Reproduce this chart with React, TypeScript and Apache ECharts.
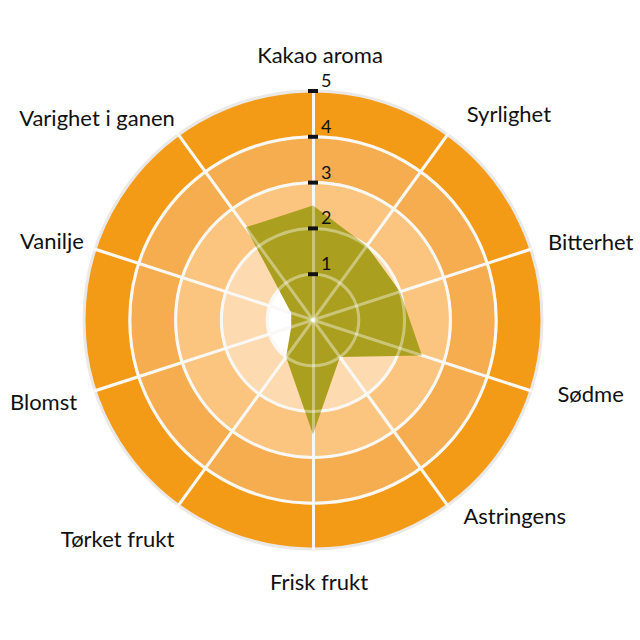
import { useEffect, useRef } from 'react';
import * as echarts from 'echarts';

// clockwise from the top
const attributes = [
  'Kakao aroma',
  'Syrlighet',
  'Bitterhet',
  'Sødme',
  'Astringens',
  'Frisk frukt',
  'Tørket frukt',
  'Blomst',
  'Vanilje',
  'Varighet i ganen',
];
const scores = [2.5, 2, 2, 2.5, 1, 2.5, 1, 0.5, 0.5, 2.5];
const maxScore = 5;

const ringColors = ['#ffffff', '#fddab0', '#fbc57f', '#f5ad4f', '#f39a17'];
const font = 'Lato';

// per-label nudges (same order as attributes):
// gap from the rim, side padding, and a vertical shift (+ down / - up)
const nameLayout: { gap: number; pad: number[]; shift: number }[] = [
  { gap: 26, pad: [0, 0, 0, 14], shift: 0 },
  { gap: 24, pad: [0, 0, 0, 5], shift: -2 },
  { gap: 18, pad: [0, 0, 0, 0], shift: -2 },
  { gap: 28, pad: [0, 0, 0, 0], shift: -6 },
  { gap: 15, pad: [0, 0, 0, 7], shift: -2 },
  { gap: 21, pad: [0, 0, 0, 12], shift: 0 },
  { gap: 7, pad: [0, 0, 0, 0], shift: 28 },
  { gap: 19, pad: [0, 0, 0, 0], shift: 5 },
  { gap: 12, pad: [0, 0, 0, 0], shift: -5 },
  { gap: 6, pad: [0, 0, 0, 0], shift: -12 },
];

// echarts lays radar axes out counter-clockwise, so flip everything after the first
const ccw = <T,>(arr: T[]) => [arr[0], ...arr.slice(1).reverse()];

const shiftStyle = (shift: number) =>
  shift === 0
    ? {}
    : { verticalAlign: shift > 0 ? 'top' : 'bottom', lineHeight: Math.abs(shift) * 2 };

const App = () => {
  const divRef = useRef<HTMLDivElement | null>(null);

  useEffect(() => {
    if (!divRef.current) return;
    const chart = echarts.init(divRef.current, null, { renderer: 'svg' });

    const names = ccw(attributes);
    const layout = ccw(nameLayout);
    const indicatorsA = names.map((name, i) => ({
      name,
      min: 0,
      max: maxScore,
      nameGap: layout[i].gap,
      nameTextStyle: { padding: layout[i].pad, ...shiftStyle(layout[i].shift) },
    }));
    const indicatorsB = names.map((name, i) =>
      i === 0
        ? {
            name,
            min: 0,
            max: maxScore,
            axisLabel: {
              show: true,
              showMinLabel: false,
              align: 'left',
              margin: 5,
              formatter: (v: number) => (v === 0 ? '' : `{t|}{v|${v}}`),
              rich: {
                t: { width: 10, height: 4, backgroundColor: '#111' },
                v: {
                  fontFamily: font,
                  fontSize: 18,
                  color: '#111',
                  lineHeight: 22,
                  padding: [0, 0, 22, 3],
                },
              },
            },
          }
        : { name, min: 0, max: maxScore },
    );

    const common = {
      center: [313, 320],
      radius: 229,
      shape: 'circle',
      splitNumber: 5,
    };

    chart.setOption({
      animation: false,
      radar: [
        {
          ...common,
          z: 0,
          indicator: indicatorsA,
          axisName: { color: '#111', fontFamily: font, fontSize: 22 },
          splitArea: { show: true, areaStyle: { color: ringColors } },
          splitLine: {
            lineStyle: {
              color: ['#f7f4ef', '#f7f4ef', '#f7f4ef', '#f7f4ef', '#f7f4ef', '#ebe9e7'],
              width: 3,
            },
          },
          axisLine: { lineStyle: { color: '#f7f4ef', width: 3 } },
          axisTick: { show: false },
          axisLabel: { show: false },
        },
        {
          ...common,
          z: 5,
          indicator: indicatorsB,
          axisName: { show: false },
          splitArea: { show: false },
          splitLine: {
            lineStyle: {
              color: [
                'rgba(255,255,255,0.4)',
                'rgba(255,255,255,0.4)',
                'rgba(255,255,255,0.4)',
                'rgba(255,255,255,0.4)',
                'rgba(255,255,255,0.4)',
                'rgba(255,255,255,0)',
              ],
              width: 3,
            },
          },
          axisLine: { lineStyle: { color: 'rgba(255,255,255,0.4)', width: 3 } },
          axisTick: { show: false },
          axisLabel: { show: false },
        },
      ],
      series: [
        {
          type: 'radar',
          radarIndex: 0,
          symbol: 'none',
          lineStyle: { width: 0 },
          areaStyle: { color: '#aa9f1f', opacity: 1 },
          data: [{ value: ccw(scores), name: 'Profil' }],
        },
      ],
    });

    return () => chart.dispose();
  }, []);

  return (
    <div
      ref={divRef}
      style={{ position: 'fixed', left: 0, top: 0, width: 640, height: 640, background: '#fff' }}
    />
  );
};

export default App;
